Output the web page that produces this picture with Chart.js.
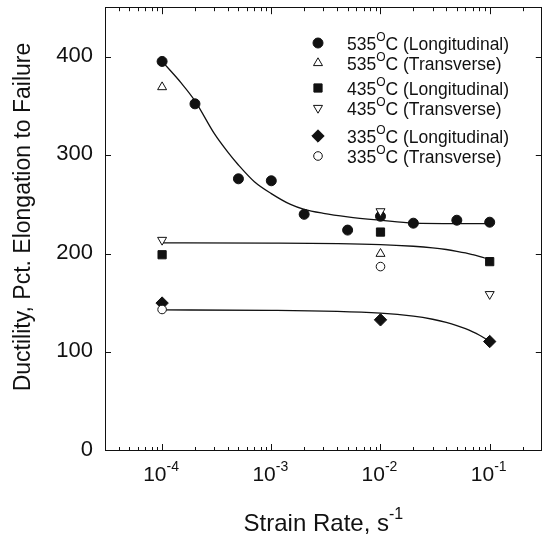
<!DOCTYPE html>
<html><head><meta charset="utf-8">
<script src="https://cdn.jsdelivr.net/npm/chart.js@4.4.1/dist/chart.umd.min.js"></script>
<style>html,body{margin:0;padding:0;background:#fff;}#wrap{width:549px;height:537px;position:relative;}</style>
</head><body><div id="wrap"><canvas id="c" width="549" height="537"></canvas></div>
<script>
// ---- data ----
const xTickExponents = [-4, -3, -2, -1];
const yTickValues = [0, 100, 200, 300, 400];

const rate535L = [1e-4, 2e-4, 5e-4, 1e-3, 2e-3, 5e-3, 1e-2, 2e-2, 5e-2, 1e-1];
const duct535L = [395, 352, 276, 274, 240, 224, 238, 231, 234, 232];
const rate535T = [1e-4, 1e-2];
const duct535T = [369, 200];
const rate435L = [1e-4, 1e-2, 1e-1];
const duct435L = [199, 222, 192];
const rate435T = [1e-4, 1e-2, 1e-1];
const duct435T = [214, 243, 159];
const rate335L = [1e-4, 1e-2, 1e-1];
const duct335L = [150, 133, 111];
const rate335T = [1e-4, 1e-2];
const duct335T = [143.5, 187];

const fit535X = [1e-4, 1.5e-4, 2e-4, 3e-4, 4e-4, 5e-4, 7e-4, 1e-3, 1.5e-3, 2e-3, 3e-3, 5e-3, 1e-2, 2e-2, 5e-2, 1e-1];
const fit535Y = [395, 373, 355, 322, 303, 290, 273, 261, 250, 245, 241, 237.5, 234, 231, 230.5, 230.5];
const fit435X = [1e-4, 1e-3, 1e-2, 2e-2, 3e-2, 4e-2, 5e-2, 6e-2, 7e-2, 8e-2, 9e-2, 1e-1];
const fit435Y = [211, 210.8, 209.3, 207.6, 206, 204.3, 202.5, 200.8, 199, 197.3, 195.7, 194];
const fit335X = [1e-4, 1e-3, 1e-2, 2e-2, 3e-2, 4e-2, 5e-2, 6e-2, 7e-2, 8e-2, 9e-2, 1e-1];
const fit335Y = [143, 142.6, 139.8, 136.8, 133.6, 130.4, 127.2, 124, 120.8, 117.6, 114.3, 111];

const legendTemps = ['535', '535', '435', '435', '335', '335'];
const legendKinds = ['Longitudinal', 'Transverse', 'Longitudinal', 'Transverse', 'Longitudinal', 'Transverse'];

const xTitle = 'Strain Rate, s';
const xTitleSup = '-1';
const yTitle = 'Ductility, Pct. Elongation to Failure';

// ---- helpers ----
const pts = (xs, ys) => xs.map((x, i) => ({x: x, y: ys[i]}));
const FONT = '"Liberation Sans", Arial, Helvetica, sans-serif';

const markerStyles = [
  {pointStyle: 'circle', radius: 5, rotation: 0, fill: '#111'},
  {pointStyle: 'triangle', radius: 5.2, rotation: 0, fill: '#fff'},
  {pointStyle: 'rect', radius: 5.8, rotation: 0, fill: '#111'},
  {pointStyle: 'triangle', radius: 5.2, rotation: 180, fill: '#fff'},
  {pointStyle: 'rectRot', radius: 6.2, rotation: 0, fill: '#111'},
  {pointStyle: 'circle', radius: 4.3, rotation: 0, fill: '#fff'}
];

function drawMarker(ctx, st, x, y) {
  ctx.save();
  ctx.fillStyle = st.fill;
  ctx.strokeStyle = '#111';
  ctx.lineWidth = 1;
  const r = st.radius;
  ctx.beginPath();
  if (st.pointStyle === 'circle') {
    ctx.arc(x, y, r, 0, Math.PI * 2);
  } else if (st.pointStyle === 'triangle') {
    let rad = st.rotation * Math.PI / 180;
    for (let k = 0; k < 3; k++) {
      const px = x + Math.sin(rad) * r, py = y - Math.cos(rad) * r;
      if (k === 0) ctx.moveTo(px, py); else ctx.lineTo(px, py);
      rad += 2 * Math.PI / 3;
    }
    ctx.closePath();
  } else if (st.pointStyle === 'rect') {
    const s = Math.SQRT1_2 * r;
    ctx.rect(x - s, y - s, 2 * s, 2 * s);
  } else if (st.pointStyle === 'rectRot') {
    ctx.moveTo(x, y - r); ctx.lineTo(x + r, y); ctx.lineTo(x, y + r); ctx.lineTo(x - r, y); ctx.closePath();
  }
  ctx.fill();
  ctx.stroke();
  ctx.restore();
}

function supText(ctx, parts, x, y, align) {
  let w = 0;
  parts.forEach(p => { ctx.font = p.size + 'px ' + FONT; p.w = ctx.measureText(p.t).width; w += p.w; });
  let cx = align === 'center' ? x - w / 2 : (align === 'right' ? x - w : x);
  ctx.textAlign = 'left';
  ctx.textBaseline = 'alphabetic';
  parts.forEach(p => { ctx.font = p.size + 'px ' + FONT; ctx.fillText(p.t, cx, y - (p.rise || 0)); cx += p.w; });
}

const framePlugin = {
  id: 'frame',
  afterDraw(chart) {
    const ctx = chart.ctx, a = chart.chartArea;
    const xs = chart.scales.x, ys = chart.scales.y;
    ctx.save();
    ctx.strokeStyle = '#111';
    ctx.fillStyle = '#111';
    ctx.lineWidth = 1;
    ctx.strokeRect(Math.round(a.left) + 0.5, Math.round(a.top) + 0.5, Math.round(a.right - a.left) - 1, Math.round(a.bottom - a.top) - 1);
    ctx.beginPath();
    for (let e = -5; e <= 0; e++) {
      for (let m = 1; m <= 9; m++) {
        const v = m * Math.pow(10, e);
        if (v <= xs.min * 1.0001 || v >= xs.max * 0.9999) continue;
        const px = Math.round(xs.getPixelForValue(v)) + 0.5;
        const len = m === 1 ? 7 : 4;
        ctx.moveTo(px, a.bottom); ctx.lineTo(px, a.bottom - len);
        ctx.moveTo(px, a.top); ctx.lineTo(px, a.top + len);
      }
    }
    yTickValues.forEach(v => {
      if (v === 0) return;
      const py = Math.round(ys.getPixelForValue(v)) + 0.5;
      ctx.moveTo(a.left, py); ctx.lineTo(a.left + 6, py);
      ctx.moveTo(a.right, py); ctx.lineTo(a.right - 6, py);
    });
    ctx.stroke();
    ctx.font = '22px ' + FONT;
    ctx.textAlign = 'right';
    ctx.textBaseline = 'middle';
    yTickValues.forEach(v => {
      ctx.fillText(String(v), a.left - 12, ys.getPixelForValue(v) - 1);
    });
    xTickExponents.forEach(e => {
      const px = xs.getPixelForValue(Math.pow(10, e));
      supText(ctx, [{t: '10', size: 21, rise: 0}, {t: String(e), size: 14, rise: 10}], px - 1, a.bottom + 30, 'center');
    });
    supText(ctx, [{t: xTitle, size: 24, rise: 0}, {t: xTitleSup, size: 16, rise: 12}], (a.left + a.right) / 2, 531, 'center');
    ctx.save();
    ctx.translate(30, 217);
    ctx.rotate(-Math.PI / 2);
    ctx.font = '23px ' + FONT;
    ctx.textAlign = 'center';
    ctx.textBaseline = 'alphabetic';
    ctx.fillText(yTitle, 0, 0);
    ctx.restore();
    const rowY = [43, 63, 88, 108, 136, 156];
    rowY.forEach((yy, i) => {
      drawMarker(ctx, markerStyles[i], 318, yy);
      ctx.fillStyle = '#111';
      supText(ctx, [
        {t: legendTemps[i], size: 17.5, rise: 0},
        {t: 'O', size: 12, rise: 9},
        {t: 'C (' + legendKinds[i] + ')', size: 17.5, rise: 0}
      ], 347, yy + 7, 'left');
    });
    ctx.restore();
  }
};

function scatterSet(label, data, st, order) {
  return {
    label: label, data: data, showLine: false, order: order,
    pointStyle: st.pointStyle, pointRadius: st.radius, pointRotation: st.rotation,
    pointBackgroundColor: st.fill, pointBorderColor: '#111', pointBorderWidth: 1,
    pointHoverRadius: st.radius
  };
}
function lineSet(label, data) {
  return {
    label: label, data: data, showLine: true, order: 20,
    borderColor: '#111', borderWidth: 1.3, pointRadius: 0, pointHoverRadius: 0,
    cubicInterpolationMode: 'monotone', fill: false
  };
}

new Chart(document.getElementById('c'), {
  type: 'scatter',
  data: {
    datasets: [
      lineSet('fit 535', pts(fit535X, fit535Y)),
      lineSet('fit 435', pts(fit435X, fit435Y)),
      lineSet('fit 335', pts(fit335X, fit335Y)),
      scatterSet('535 L', pts(rate535L, duct535L), markerStyles[0], 5),
      scatterSet('435 L', pts(rate435L, duct435L), markerStyles[2], 5),
      scatterSet('335 L', pts(rate335L, duct335L), markerStyles[4], 5),
      scatterSet('535 T', pts(rate535T, duct535T), markerStyles[1], 1),
      scatterSet('435 T', pts(rate435T, duct435T), markerStyles[3], 1),
      scatterSet('335 T', pts(rate335T, duct335T), markerStyles[5], 1)
    ]
  },
  options: {
    responsive: false,
    animation: false,
    devicePixelRatio: 1,
    layout: {padding: {left: 0, top: 7, right: 2, bottom: 0}},
    plugins: {legend: {display: false}, tooltip: {enabled: false}, title: {display: false}},
    scales: {
      x: {
        type: 'logarithmic', min: 3e-5, max: 3e-1,
        grid: {display: false}, border: {display: false},
        ticks: {display: false},
        afterFit: s => { s.height = 86; }
      },
      y: {
        type: 'linear', min: 0, max: 450,
        grid: {display: false}, border: {display: false},
        ticks: {display: false},
        afterFit: s => { s.width = 105; }
      }
    }
  },
  plugins: [framePlugin]
});
</script>
</body></html>
